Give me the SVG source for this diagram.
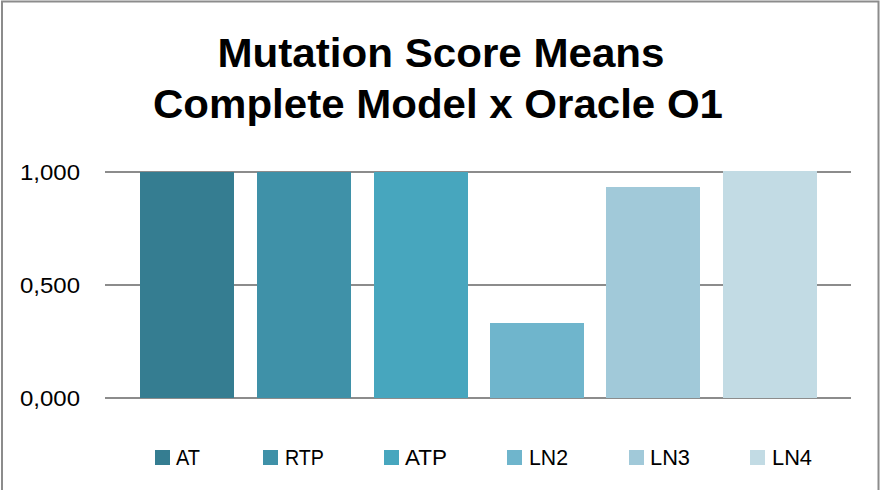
<svg xmlns="http://www.w3.org/2000/svg" width="880" height="490" viewBox="0 0 880 490">
<style>
.title{font-family:"Liberation Sans",Arial,sans-serif;font-weight:bold;font-size:41px;fill:#000;text-anchor:middle}
.ax{font-family:"Liberation Sans",Arial,sans-serif;font-size:22px;fill:#000;text-anchor:end}
.lg{font-family:"Liberation Sans",Arial,sans-serif;font-size:22px;fill:#000}
.grid{stroke:#8c8c8c;stroke-width:2}
</style>
<rect x="0" y="0" width="880" height="490" fill="#fff"/>
<rect x="2" y="1.5" width="876.5" height="490" fill="none" stroke="#8c8c8c" stroke-width="2"/>
<g id="title">
<text class="title" x="441" y="67" textLength="447" lengthAdjust="spacingAndGlyphs">Mutation Score Means</text>
<text class="title" x="438" y="118" textLength="570" lengthAdjust="spacingAndGlyphs">Complete Model x Oracle O1</text>
</g>
<g id="axis">
<line class="grid" x1="105" y1="172" x2="851" y2="172"/>
<line class="grid" x1="105" y1="285" x2="851" y2="285"/>
<line class="grid" x1="105" y1="398" x2="851" y2="398"/>
<text class="ax" x="80" y="180" textLength="60" lengthAdjust="spacingAndGlyphs">1,000</text>
<text class="ax" x="80" y="293" textLength="60" lengthAdjust="spacingAndGlyphs">0,500</text>
<text class="ax" x="80" y="406" textLength="60" lengthAdjust="spacingAndGlyphs">0,000</text>
</g>
<g id="bars">
<rect id="bar-AT" x="140" y="172" width="94" height="226" fill="#357d91"/>
<rect id="bar-RTP" x="257" y="172" width="94" height="226" fill="#3f91a8"/>
<rect id="bar-ATP" x="374" y="172" width="94" height="226" fill="#47a6be"/>
<rect id="bar-LN2" x="490" y="323" width="94" height="75" fill="#6fb5cc"/>
<rect id="bar-LN3" x="606" y="187" width="94" height="211" fill="#a1c9d9"/>
<rect id="bar-LN4" x="723" y="171" width="94" height="227" fill="#c2dbe4"/>
</g>
<g id="legend">
<rect x="155" y="450" width="15" height="15" fill="#357d91"/>
<text class="lg" x="176" y="465" textLength="24" lengthAdjust="spacingAndGlyphs">AT</text>
<rect x="263" y="450" width="15" height="15" fill="#3f91a8"/>
<text class="lg" x="285" y="465" textLength="39" lengthAdjust="spacingAndGlyphs">RTP</text>
<rect x="384" y="450" width="15" height="15" fill="#47a6be"/>
<text class="lg" x="405" y="465" textLength="42" lengthAdjust="spacingAndGlyphs">ATP</text>
<rect x="507" y="450" width="15" height="15" fill="#6fb5cc"/>
<text class="lg" x="529" y="465" textLength="39" lengthAdjust="spacingAndGlyphs">LN2</text>
<rect x="629" y="450" width="15" height="15" fill="#a1c9d9"/>
<text class="lg" x="650" y="465" textLength="40" lengthAdjust="spacingAndGlyphs">LN3</text>
<rect x="750" y="450" width="15" height="15" fill="#c2dbe4"/>
<text class="lg" x="772" y="465" textLength="40" lengthAdjust="spacingAndGlyphs">LN4</text>
</g>
</svg>
